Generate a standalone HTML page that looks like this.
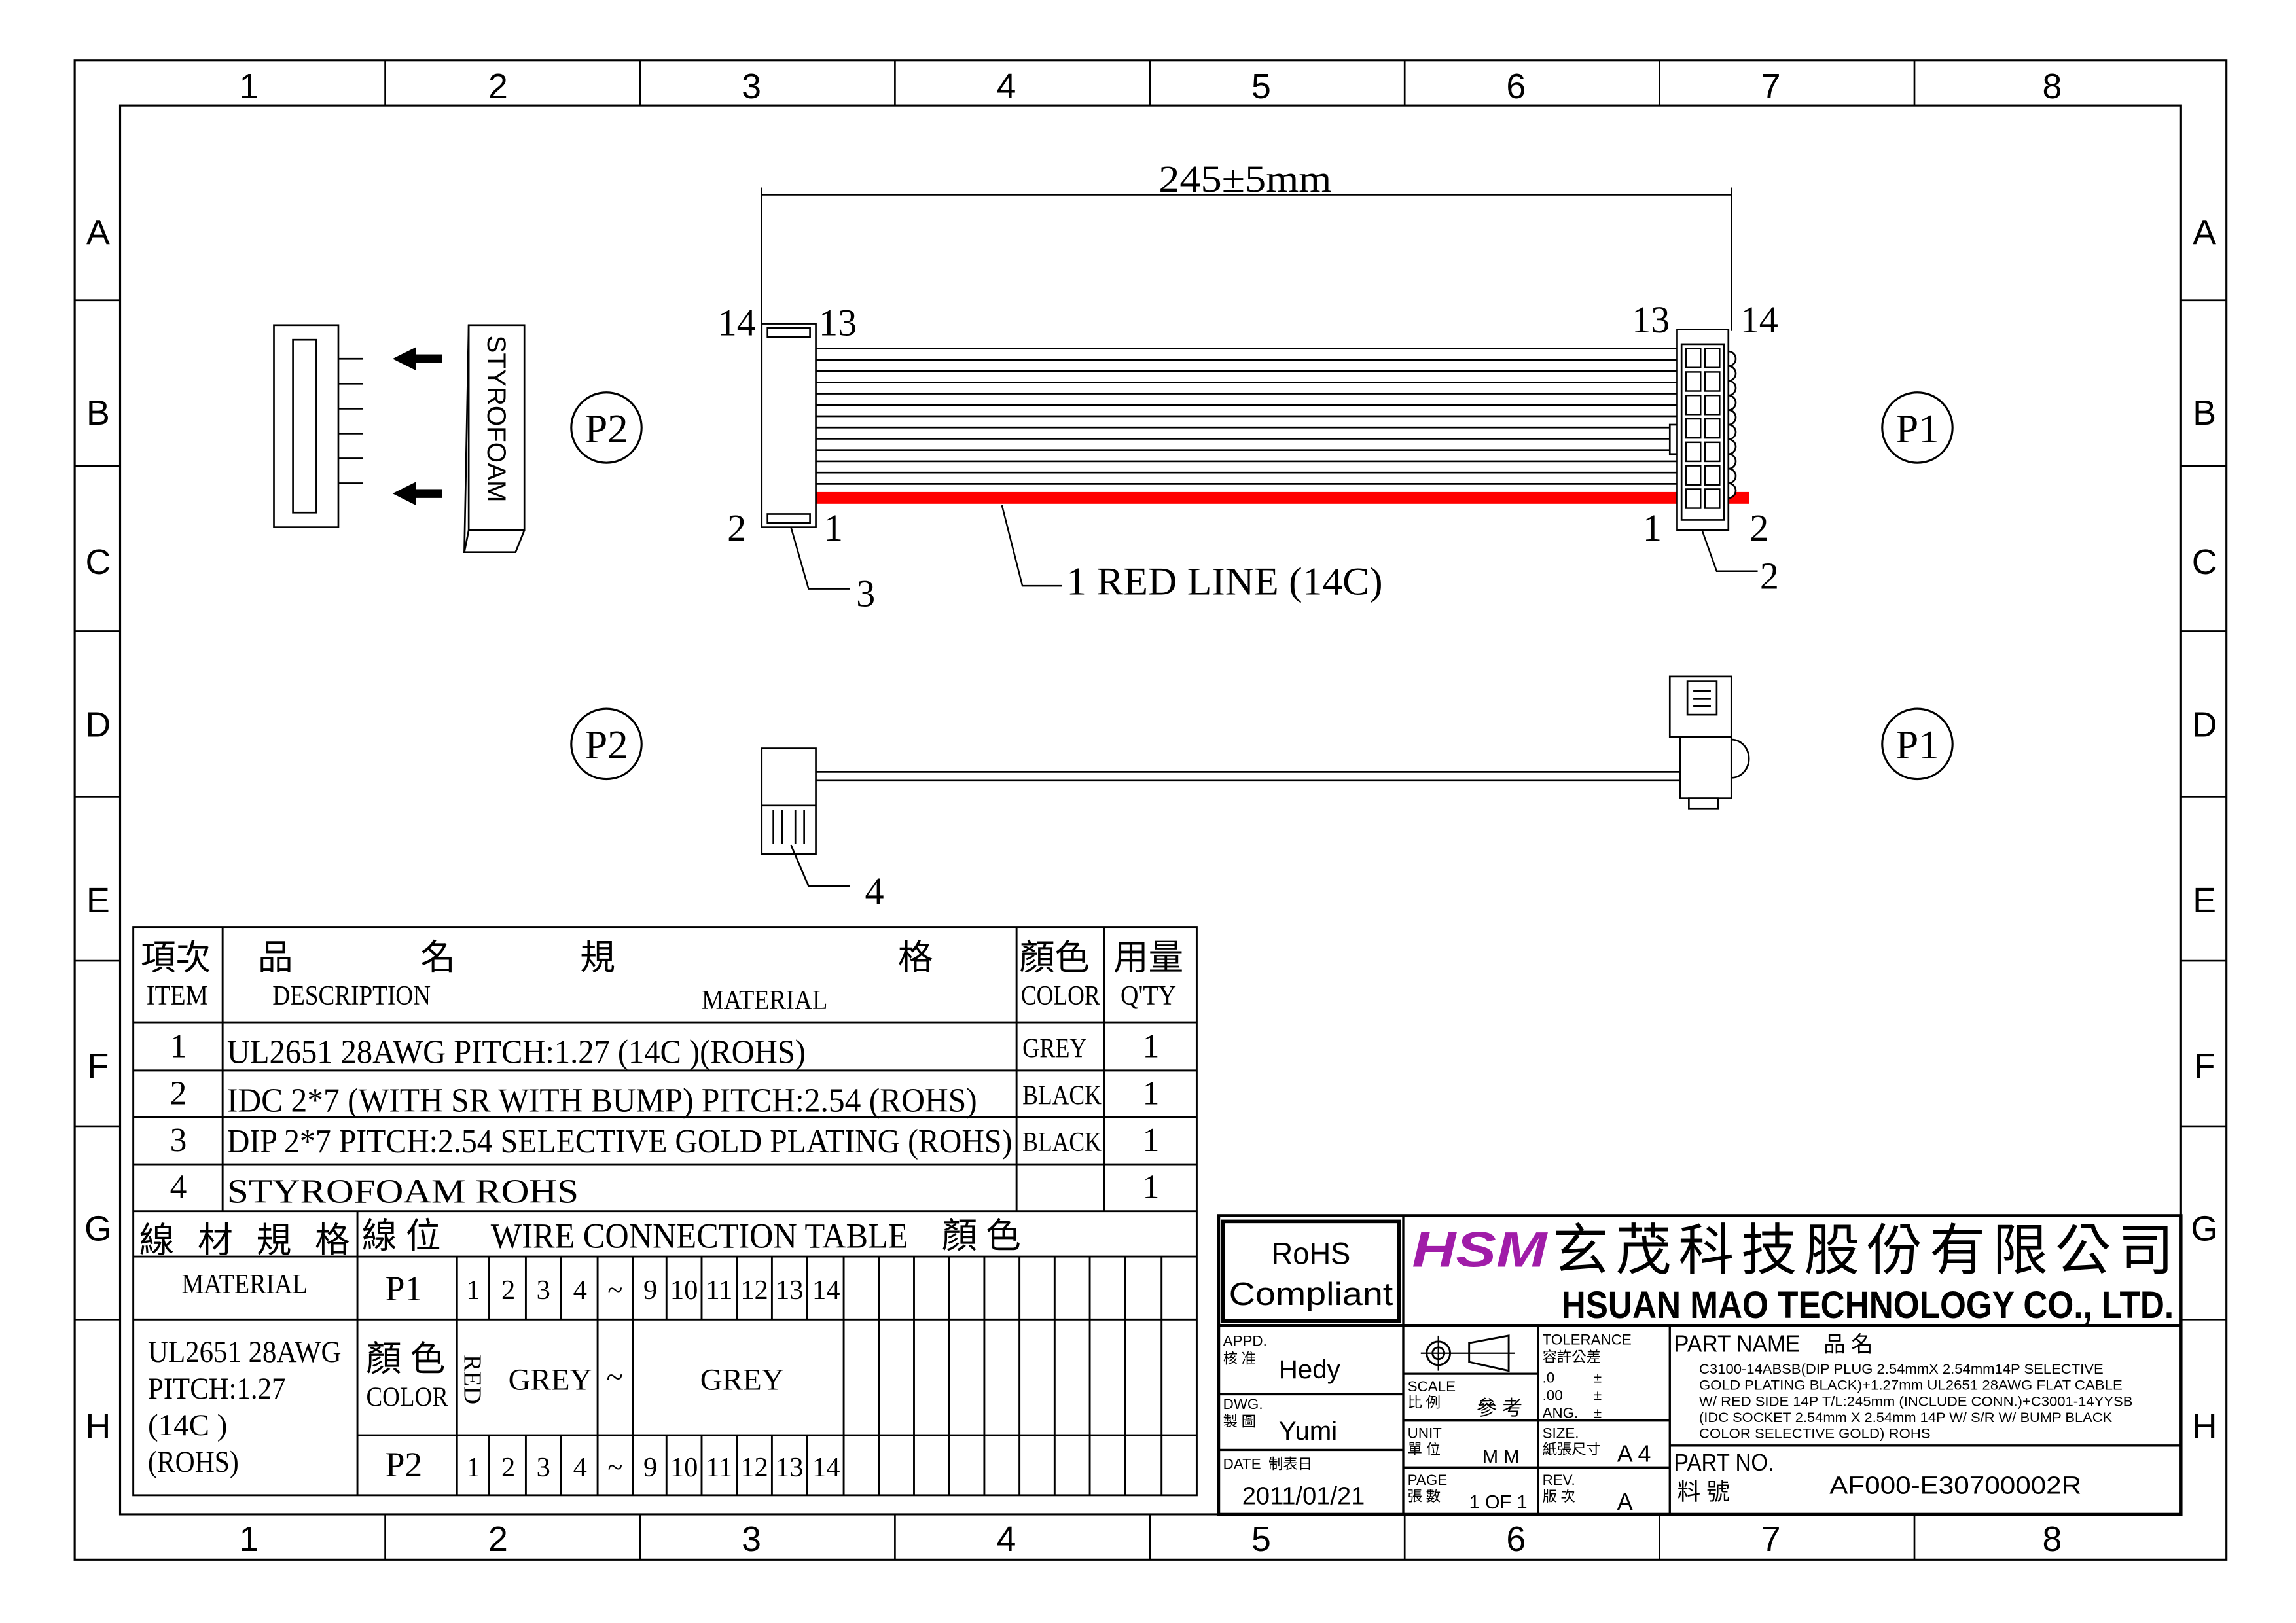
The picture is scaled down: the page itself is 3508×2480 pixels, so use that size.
<!DOCTYPE html>
<html><head><meta charset="utf-8"><style>
html,body{margin:0;padding:0;background:#fff;}
svg{display:block;}
text{font-family:"Liberation Serif","Noto Serif CJK SC",serif;fill:#000;}
.s{font-family:"Liberation Sans","Noto Sans CJK TC",sans-serif;}
.c{font-family:"Liberation Serif","Noto Sans CJK TC",serif;}
</style></head><body>
<svg width="3508" height="2480" viewBox="0 0 1567.5 1108.2" preserveAspectRatio="none" xmlns="http://www.w3.org/2000/svg">
<rect width="1567.5" height="1108.2" fill="#fff"/>
<g fill="none" stroke="#000" stroke-width="1.4">
<rect x="51" y="41" width="1469" height="1024"/>
<rect x="82" y="72" width="1407" height="962"/>
</g>
<g stroke="#000" stroke-width="1.2">
<line x1="263" y1="41" x2="263" y2="72"/><line x1="437" y1="41" x2="437" y2="72"/><line x1="611" y1="41" x2="611" y2="72"/><line x1="785" y1="41" x2="785" y2="72"/><line x1="959" y1="41" x2="959" y2="72"/><line x1="1133" y1="41" x2="1133" y2="72"/><line x1="1307" y1="41" x2="1307" y2="72"/>
<line x1="263" y1="1034" x2="263" y2="1065"/><line x1="437" y1="1034" x2="437" y2="1065"/><line x1="611" y1="1034" x2="611" y2="1065"/><line x1="785" y1="1034" x2="785" y2="1065"/><line x1="959" y1="1034" x2="959" y2="1065"/><line x1="1133" y1="1034" x2="1133" y2="1065"/><line x1="1307" y1="1034" x2="1307" y2="1065"/>
<line x1="51" y1="205" x2="82" y2="205"/><line x1="51" y1="318" x2="82" y2="318"/><line x1="51" y1="431" x2="82" y2="431"/><line x1="51" y1="544" x2="82" y2="544"/><line x1="51" y1="656" x2="82" y2="656"/><line x1="51" y1="769" x2="82" y2="769"/><line x1="51" y1="901" x2="82" y2="901"/>
<line x1="1489" y1="205" x2="1520" y2="205"/><line x1="1489" y1="318" x2="1520" y2="318"/><line x1="1489" y1="431" x2="1520" y2="431"/><line x1="1489" y1="544" x2="1520" y2="544"/><line x1="1489" y1="656" x2="1520" y2="656"/><line x1="1489" y1="769" x2="1520" y2="769"/><line x1="1489" y1="901" x2="1520" y2="901"/>
</g>
<g class="s" font-size="24" text-anchor="middle">
<text class="s" x="170" y="67">1</text><text class="s" x="340" y="67">2</text><text class="s" x="513" y="67">3</text><text class="s" x="687" y="67">4</text><text class="s" x="861" y="67">5</text><text class="s" x="1035" y="67">6</text><text class="s" x="1209" y="67">7</text><text class="s" x="1401" y="67">8</text>
<text class="s" x="170" y="1059">1</text><text class="s" x="340" y="1059">2</text><text class="s" x="513" y="1059">3</text><text class="s" x="687" y="1059">4</text><text class="s" x="861" y="1059">5</text><text class="s" x="1035" y="1059">6</text><text class="s" x="1209" y="1059">7</text><text class="s" x="1401" y="1059">8</text>
<text class="s" x="67" y="167">A</text><text class="s" x="67" y="290">B</text><text class="s" x="67" y="392">C</text><text class="s" x="67" y="503">D</text><text class="s" x="67" y="623">E</text><text class="s" x="67" y="736">F</text><text class="s" x="67" y="847">G</text><text class="s" x="67" y="982">H</text>
<text class="s" x="1505" y="167">A</text><text class="s" x="1505" y="290">B</text><text class="s" x="1505" y="392">C</text><text class="s" x="1505" y="503">D</text><text class="s" x="1505" y="623">E</text><text class="s" x="1505" y="736">F</text><text class="s" x="1505" y="847">G</text><text class="s" x="1505" y="982">H</text>
</g>

<g stroke="#000" stroke-width="1" fill="none">
<line x1="520" y1="133" x2="1182" y2="133"/>
<line x1="520" y1="128" x2="520" y2="222"/>
<line x1="1182" y1="128" x2="1182" y2="226"/>
</g>
<text x="850" y="131" font-size="26" text-anchor="middle" textLength="118" lengthAdjust="spacingAndGlyphs">245±5mm</text>

<g stroke="#000" stroke-width="1.2" fill="none">
<rect x="187" y="222" width="44" height="138"/>
<rect x="200" y="232" width="16" height="118"/>
<line x1="231" y1="245" x2="248" y2="245"/><line x1="231" y1="262" x2="248" y2="262"/><line x1="231" y1="279" x2="248" y2="279"/><line x1="231" y1="296" x2="248" y2="296"/><line x1="231" y1="313" x2="248" y2="313"/><line x1="231" y1="330" x2="248" y2="330"/>
<rect x="320" y="222" width="38" height="140"/>
<polyline points="320,362 317,377 352,377 358,362"/>
<line x1="317" y1="377" x2="320" y2="222"/>
</g>
<g fill="#000">
<rect x="282" y="242" width="20" height="6"/><polygon points="268,245 284,237 284,253"/>
<rect x="282" y="334" width="20" height="6"/><polygon points="268,337 284,329 284,345"/>
</g>
<text class="s" x="0" y="0" font-size="18" transform="translate(333,229) rotate(90)">STYROFOAM</text>

<g stroke="#000" stroke-width="1.4" fill="none">
<circle cx="414" cy="292" r="24"/><circle cx="1309" cy="292" r="24"/>
<circle cx="414" cy="508" r="24"/><circle cx="1309" cy="508" r="24"/>
</g>
<g font-size="28" text-anchor="middle">
<text x="414" y="302">P2</text><text x="1309" y="302">P1</text>
<text x="414" y="518">P2</text><text x="1309" y="518">P1</text>
</g>

<g stroke="#000" stroke-width="1.2">
<line x1="557" y1="238" x2="1145" y2="238"/><line x1="557" y1="245.7" x2="1145" y2="245.7"/><line x1="557" y1="253.4" x2="1145" y2="253.4"/><line x1="557" y1="261.1" x2="1145" y2="261.1"/><line x1="557" y1="268.8" x2="1145" y2="268.8"/><line x1="557" y1="276.5" x2="1145" y2="276.5"/><line x1="557" y1="284.2" x2="1145" y2="284.2"/><line x1="557" y1="291.9" x2="1145" y2="291.9"/><line x1="557" y1="299.6" x2="1145" y2="299.6"/><line x1="557" y1="307.3" x2="1145" y2="307.3"/><line x1="557" y1="315" x2="1145" y2="315"/><line x1="557" y1="322.7" x2="1145" y2="322.7"/><line x1="557" y1="330.4" x2="1145" y2="330.4"/>
</g>
<rect x="557" y="336" width="637" height="8" fill="#f00"/>
<g stroke="#000" stroke-width="1.2" fill="#fff">
<rect x="520" y="221" width="37" height="139"/>
<rect x="524" y="224" width="29" height="6"/><rect x="524" y="351" width="29" height="6"/>
<path d="M1180,240 a5,5 0 0 1 0,10 a5,5 0 0 1 0,10 a5,5 0 0 1 0,10 a5,5 0 0 1 0,10 a5,5 0 0 1 0,10 a5,5 0 0 1 0,10 a5,5 0 0 1 0,10 a5,5 0 0 1 0,10 a5,5 0 0 1 0,10 a5,5 0 0 1 0,10"/>
<rect x="1140" y="290" width="6" height="20"/>
<rect x="1145" y="225" width="35" height="137"/>
<rect x="1148" y="235" width="29" height="120"/>
</g>
<g stroke="#000" stroke-width="1.1" fill="none">
<rect x="1151" y="238" width="10" height="13"/><rect x="1164" y="238" width="10" height="13"/>
<rect x="1151" y="254" width="10" height="13"/><rect x="1164" y="254" width="10" height="13"/>
<rect x="1151" y="270" width="10" height="13"/><rect x="1164" y="270" width="10" height="13"/>
<rect x="1151" y="286" width="10" height="13"/><rect x="1164" y="286" width="10" height="13"/>
<rect x="1151" y="302" width="10" height="13"/><rect x="1164" y="302" width="10" height="13"/>
<rect x="1151" y="318" width="10" height="13"/><rect x="1164" y="318" width="10" height="13"/>
<rect x="1151" y="334" width="10" height="13"/><rect x="1164" y="334" width="10" height="13"/>
<polyline points="540,360 552,402 580,402"/>
<polyline points="684,345 698,400 725,400"/>
<polyline points="1162,362 1172,390 1200,390"/>
</g>
<g font-size="26" text-anchor="middle">
<text x="503" y="229">14</text><text x="572" y="229">13</text><text x="503" y="369">2</text><text x="569" y="369">1</text>
<text x="1127" y="227">13</text><text x="1201" y="227">14</text><text x="1128" y="369">1</text><text x="1201" y="369">2</text>
<text x="591" y="414">3</text><text x="1208" y="402">2</text><text x="597" y="617">4</text>
</g>
<text x="728" y="406" font-size="27" textLength="216" lengthAdjust="spacingAndGlyphs">1 RED LINE (14C)</text>

<g stroke="#000" stroke-width="1.2" fill="#fff">
<line x1="557" y1="527" x2="1147" y2="527"/><line x1="557" y1="533" x2="1147" y2="533"/>
<rect x="520" y="511" width="37" height="72"/>
<line x1="520" y1="550" x2="557" y2="550"/>
<line x1="528" y1="553" x2="528" y2="576" /><line x1="534" y1="553" x2="534" y2="576"/><line x1="543" y1="553" x2="543" y2="576"/><line x1="549" y1="553" x2="549" y2="576"/>
<path d="M1182,505 a12,13 0 0 1 0,26" fill="none"/>
<rect x="1147" y="503" width="35" height="42"/>
<rect x="1153" y="545" width="20" height="7"/>
<rect x="1140" y="462" width="42" height="41"/>
<rect x="1152" y="465" width="20" height="23"/>
<line x1="1156" y1="472" x2="1168" y2="472"/><line x1="1156" y1="477" x2="1168" y2="477"/><line x1="1156" y1="482" x2="1168" y2="482"/>
<polyline points="540,577 552,605 580,605" fill="none"/>
</g>

<g stroke="#000" stroke-width="1.3" fill="none">
<rect x="91" y="633" width="726" height="388"/>
<line x1="91" y1="698" x2="817" y2="698"/><line x1="91" y1="731" x2="817" y2="731"/><line x1="91" y1="763" x2="817" y2="763"/><line x1="91" y1="795" x2="817" y2="795"/><line x1="91" y1="827" x2="817" y2="827"/>
<line x1="152" y1="633" x2="152" y2="827"/><line x1="694" y1="633" x2="694" y2="827"/><line x1="754" y1="633" x2="754" y2="827"/>
<line x1="91" y1="858" x2="817" y2="858"/>
<line x1="244" y1="827" x2="244" y2="1021"/>
<line x1="91" y1="901" x2="817" y2="901"/>
<line x1="244" y1="980" x2="817" y2="980"/>
<line x1="312" y1="858" x2="312" y2="1021"/>
<line x1="334" y1="858" x2="334" y2="901"/><line x1="359" y1="858" x2="359" y2="901"/><line x1="383" y1="858" x2="383" y2="901"/><line x1="408" y1="858" x2="408" y2="1021"/><line x1="432" y1="858" x2="432" y2="1021"/><line x1="455" y1="858" x2="455" y2="901"/><line x1="479" y1="858" x2="479" y2="901"/><line x1="503" y1="858" x2="503" y2="901"/><line x1="527" y1="858" x2="527" y2="901"/><line x1="551" y1="858" x2="551" y2="901"/><line x1="576" y1="858" x2="576" y2="1021"/>
<line x1="334" y1="980" x2="334" y2="1021"/><line x1="359" y1="980" x2="359" y2="1021"/><line x1="383" y1="980" x2="383" y2="1021"/><line x1="455" y1="980" x2="455" y2="1021"/><line x1="479" y1="980" x2="479" y2="1021"/><line x1="503" y1="980" x2="503" y2="1021"/><line x1="527" y1="980" x2="527" y2="1021"/><line x1="551" y1="980" x2="551" y2="1021"/>
<line x1="600" y1="858" x2="600" y2="1021"/><line x1="624" y1="858" x2="624" y2="1021"/><line x1="648" y1="858" x2="648" y2="1021"/><line x1="672" y1="858" x2="672" y2="1021"/><line x1="696" y1="858" x2="696" y2="1021"/><line x1="720" y1="858" x2="720" y2="1021"/><line x1="744" y1="858" x2="744" y2="1021"/><line x1="768" y1="858" x2="768" y2="1021"/><line x1="793" y1="858" x2="793" y2="1021"/>
</g>
<g font-size="24">
<text class="c" x="96" y="662">項次</text><text class="c" x="176" y="662">品</text><text class="c" x="287" y="662">名</text><text class="c" x="396" y="662">規</text><text class="c" x="613" y="662">格</text>
<text class="c" x="696" y="662">顏色</text><text class="c" x="760" y="662">用量</text>
</g>
<g font-size="19">
<text x="100" y="686" textLength="42" lengthAdjust="spacingAndGlyphs">ITEM</text>
<text x="186" y="686" textLength="108" lengthAdjust="spacingAndGlyphs">DESCRIPTION</text>
<text x="479" y="689" textLength="86" lengthAdjust="spacingAndGlyphs">MATERIAL</text>
<text x="697" y="686" textLength="54" lengthAdjust="spacingAndGlyphs">COLOR</text>
<text x="765" y="686" textLength="38" lengthAdjust="spacingAndGlyphs">Q'TY</text>
</g>
<g font-size="23">
<text x="116" y="722">1</text><text x="116" y="754">2</text><text x="116" y="786">3</text><text x="116" y="818">4</text>
<text x="780" y="722">1</text><text x="780" y="754">1</text><text x="780" y="786">1</text><text x="780" y="818">1</text>
<text x="155" y="726" textLength="395" lengthAdjust="spacingAndGlyphs">UL2651  28AWG  PITCH:1.27 (14C )(ROHS)</text>
<text x="155" y="759" textLength="512" lengthAdjust="spacingAndGlyphs">IDC 2*7 (WITH SR WITH BUMP)  PITCH:2.54 (ROHS)</text>
<text x="155" y="787" textLength="536" lengthAdjust="spacingAndGlyphs">DIP 2*7 PITCH:2.54 SELECTIVE GOLD PLATING (ROHS)</text>
<text x="155" y="821" textLength="240" lengthAdjust="spacingAndGlyphs">STYROFOAM ROHS</text>
</g>
<g font-size="19">
<text x="698" y="722" textLength="44" lengthAdjust="spacingAndGlyphs">GREY</text>
<text x="698" y="754" textLength="54" lengthAdjust="spacingAndGlyphs">BLACK</text>
<text x="698" y="786" textLength="54" lengthAdjust="spacingAndGlyphs">BLACK</text>
</g>
<g font-size="24">
<text class="c" x="95" y="855" textLength="144" lengthAdjust="spacing">線材規格</text>
<text class="c" x="247" y="852">線 位</text>
<text x="335" y="852" textLength="285" lengthAdjust="spacingAndGlyphs">WIRE  CONNECTION  TABLE</text>
<text class="c" x="643" y="852">顏 色</text>
<text x="124" y="883" font-size="19" textLength="86" lengthAdjust="spacingAndGlyphs">MATERIAL</text>
<text x="263" y="888">P1</text><text x="263" y="1008">P2</text>
<text class="c" x="250" y="936">顏 色</text>
<text x="250" y="960" font-size="19" textLength="56" lengthAdjust="spacingAndGlyphs">COLOR</text>
</g>
<g font-size="21">
<text x="101" y="930" textLength="132" lengthAdjust="spacingAndGlyphs">UL2651 28AWG</text>
<text x="101" y="955" textLength="94" lengthAdjust="spacingAndGlyphs">PITCH:1.27</text>
<text x="101" y="980">(14C )</text>
<text x="101" y="1005" textLength="62" lengthAdjust="spacingAndGlyphs">(ROHS)</text>
<text x="347" y="949">GREY</text><text x="478" y="949">GREY</text><text x="414" y="947">~</text>
</g>
<text font-size="17" transform="translate(317,925) rotate(90)">RED</text>
<g font-size="19" text-anchor="middle">
<text x="323" y="887">1</text><text x="347" y="887">2</text><text x="371" y="887">3</text><text x="396" y="887">4</text><text x="420" y="887">~</text><text x="444" y="887">9</text><text x="467" y="887">10</text><text x="491" y="887">11</text><text x="515" y="887">12</text><text x="539" y="887">13</text><text x="564" y="887">14</text>
<text x="323" y="1008">1</text><text x="347" y="1008">2</text><text x="371" y="1008">3</text><text x="396" y="1008">4</text><text x="420" y="1008">~</text><text x="444" y="1008">9</text><text x="467" y="1008">10</text><text x="491" y="1008">11</text><text x="515" y="1008">12</text><text x="539" y="1008">13</text><text x="564" y="1008">14</text>
</g>

<g stroke="#000" fill="none">
<rect x="832" y="830" width="657" height="204" stroke-width="2"/>
<rect x="835" y="834" width="120" height="68" stroke-width="2.5"/>
<line x1="958" y1="830" x2="958" y2="1034" stroke-width="1.5"/>
<line x1="832" y1="905" x2="1489" y2="905" stroke-width="2"/>
<line x1="1050" y1="905" x2="1050" y2="1034" stroke-width="1.5"/>
<line x1="1140" y1="905" x2="1140" y2="1034" stroke-width="1.5"/>
<line x1="832" y1="952" x2="958" y2="952" stroke-width="1.5"/>
<line x1="832" y1="990" x2="958" y2="990" stroke-width="1.5"/>
<line x1="958" y1="938" x2="1050" y2="938" stroke-width="1.5"/>
<line x1="958" y1="970" x2="1140" y2="970" stroke-width="1.5"/>
<line x1="958" y1="1002" x2="1140" y2="1002" stroke-width="1.5"/>
<line x1="1140" y1="987" x2="1489" y2="987" stroke-width="1.5"/>
<circle cx="982" cy="924" r="8" stroke-width="1.3"/><circle cx="982" cy="924" r="4" stroke-width="1.3"/>
<line x1="970" y1="924" x2="1034" y2="924" stroke-width="1"/><line x1="982" y1="912" x2="982" y2="936" stroke-width="1"/>
<polygon points="1003,917 1030,912 1030,936 1003,930" stroke-width="1.3"/>
</g>
<g class="s" text-anchor="middle">
<text class="s" x="895" y="863" font-size="21" textLength="54" lengthAdjust="spacingAndGlyphs">RoHS</text>
<text class="s" x="895" y="891" font-size="22" textLength="112" lengthAdjust="spacingAndGlyphs">Compliant</text>
</g>
<text class="s" x="964" y="865" font-size="34" font-weight="bold" font-style="italic" style="fill:#a01ca8" textLength="92" lengthAdjust="spacingAndGlyphs">HSM</text>
<text class="c" x="1060" y="867" font-size="38" textLength="424" lengthAdjust="spacing">玄茂科技股份有限公司</text>
<text class="s" x="1066" y="900" font-size="26" font-weight="bold" textLength="418" lengthAdjust="spacingAndGlyphs">HSUAN MAO TECHNOLOGY CO., LTD.</text>
<g class="s" font-size="10">
<text class="s" x="835" y="919">APPD.</text><text class="c" x="835" y="931">核 准</text>
<text class="s" x="835" y="962">DWG.</text><text class="c" x="835" y="974">製 圖</text>
<text class="s" x="835" y="1003">DATE</text><text class="c" x="866" y="1003">制表日</text>
<text class="s" x="961" y="950">SCALE</text><text class="c" x="961" y="961">比 例</text>
<text class="s" x="961" y="982">UNIT</text><text class="c" x="961" y="993">單 位</text>
<text class="s" x="961" y="1014">PAGE</text><text class="c" x="961" y="1025">張 數</text>
<text class="s" x="1053" y="918">TOLERANCE</text><text class="c" x="1053" y="930">容許公差</text>
<text class="s" x="1053" y="944">.0</text><text class="s" x="1088" y="944">±</text>
<text class="s" x="1053" y="956">.00</text><text class="s" x="1088" y="956">±</text>
<text class="s" x="1053" y="968">ANG.</text><text class="s" x="1088" y="968">±</text>
<text class="s" x="1053" y="982">SIZE.</text><text class="c" x="1053" y="993">紙張尺寸</text>
<text class="s" x="1053" y="1014">REV.</text><text class="c" x="1053" y="1025">版 次</text>
</g>
<g class="s">
<text class="s" x="873" y="941" font-size="18">Hedy</text>
<text class="s" x="873" y="983" font-size="18">Yumi</text>
<text class="s" x="848" y="1027" font-size="17">2011/01/21</text>
<text class="c" x="1008" y="966" font-size="14">參 考</text>
<text class="s" x="1012" y="999" font-size="13">M M</text>
<text class="s" x="1003" y="1030" font-size="13">1 OF 1</text>
<text class="s" x="1104" y="998" font-size="16">A 4</text>
<text class="s" x="1104" y="1031" font-size="16">A</text>
<text class="s" x="1143" y="923" font-size="16" textLength="86" lengthAdjust="spacingAndGlyphs">PART NAME</text>
<text class="c" x="1245" y="923" font-size="15">品  名</text>
<text class="s" x="1143" y="1004" font-size="16" textLength="68" lengthAdjust="spacingAndGlyphs">PART NO.</text>
<text class="c" x="1145" y="1024" font-size="16">料  號</text>
<text class="s" x="1249" y="1020" font-size="17" textLength="172" lengthAdjust="spacingAndGlyphs">AF000-E30700002R</text>
</g>
<g class="s" font-size="9.5">
<text class="s" x="1160" y="938" textLength="276" lengthAdjust="spacingAndGlyphs">C3100-14ABSB(DIP PLUG 2.54mmX 2.54mm14P SELECTIVE</text>
<text class="s" x="1160" y="949" textLength="289" lengthAdjust="spacingAndGlyphs">GOLD PLATING BLACK)+1.27mm UL2651 28AWG FLAT CABLE</text>
<text class="s" x="1160" y="960" textLength="296" lengthAdjust="spacingAndGlyphs">W/ RED SIDE 14P T/L:245mm (INCLUDE CONN.)+C3001-14YYSB</text>
<text class="s" x="1160" y="971" textLength="282" lengthAdjust="spacingAndGlyphs">(IDC SOCKET 2.54mm X 2.54mm 14P W/ S/R W/ BUMP BLACK</text>
<text class="s" x="1160" y="982" textLength="158" lengthAdjust="spacingAndGlyphs">COLOR SELECTIVE GOLD) ROHS</text>
</g>
</svg>
</body></html>
